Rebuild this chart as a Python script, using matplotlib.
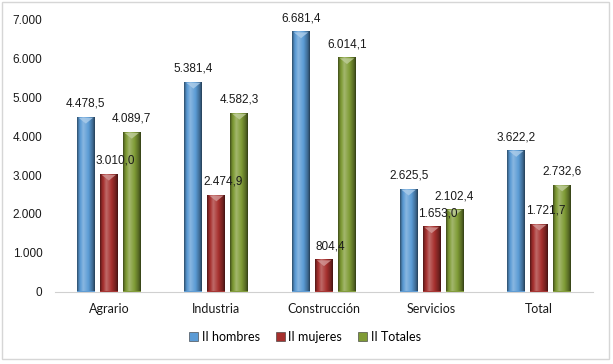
import numpy as np
import matplotlib.pyplot as plt
from matplotlib.colors import to_rgb
from matplotlib.patches import Rectangle, Polygon

categorias = ['Agrario', 'Industria', 'Construcción', 'Servicios', 'Total']
hombres = [4478.5, 5381.4, 6681.4, 2625.5, 3622.2]
mujeres = [3010.0, 2474.9, 804.4, 1653.0, 1721.7]
totales = [4089.7, 4582.3, 6014.1, 2102.4, 2732.6]
nombres = ['II hombres', 'II mujeres', 'II Totales']
colores = ['#5B9BD5', '#A6302E', '#7F9B35']


def fmt(v, dec=1):
    s = f"{v:,.{dec}f}"
    return s.replace(',', '#').replace('.', ',').replace('#', '.')


def sombra(color, n=64):
    # cylinder-like shading across the bar
    base = np.array(to_rgb(color))
    t = np.linspace(0, 1, n)
    k = np.interp(t, [0, 0.12, 0.35, 0.65, 0.9, 1], [-0.5, -0.1, 0.28, 0.0, -0.35, -0.6])
    out = np.empty((1, n, 3))
    for i, f in enumerate(k):
        if f >= 0:
            out[0, i] = base + (1 - base) * f
        else:
            out[0, i] = base * (1 + f)
    return np.clip(out, 0, 1)


fig = plt.figure(figsize=(6.13, 3.64), dpi=100)
ax = fig.add_axes([55 / 613, 72.5 / 364, 538 / 613, 271.5 / 364])

x = np.arange(len(categorias))
paso = 0.2135
ancho = 0.167
datos = [hombres, mujeres, totales]
dx_label = [0, 4.5, 0]

for j, (serie, col) in enumerate(zip(datos, colores)):
    barras = ax.bar(x + (j - 1) * paso, serie, width=ancho, color=col, zorder=2)
    img = sombra(col)
    for rect, v in zip(barras, serie):
        x0, w, h = rect.get_x(), rect.get_width(), rect.get_height()
        ax.imshow(img, extent=[x0, x0 + w, 0, h], aspect='auto', zorder=3,
                  interpolation='bilinear')
        # small bevel on top
        claro = np.array(to_rgb(col)) * 0.5 + 0.5
        ax.add_patch(Polygon([[x0 + w * 0.1, h], [x0 + w * 0.9, h], [x0 + w / 2, h - 150]],
                             closed=True, color=claro, alpha=0.8, zorder=4, lw=0))
        ax.annotate(fmt(v), (x0 + w / 2, h), xytext=(dx_label[j], 10),
                    textcoords='offset points', ha='center', va='center',
                    fontsize=8.5, family='Liberation Sans', color='#1a1a1a',
                    zorder=5, annotation_clip=False)

ax.set_xlim(-0.5, len(categorias) - 0.5)
ax.set_ylim(0, 7000)
ax.set_yticks(range(0, 7001, 1000))
ax.set_yticklabels([fmt(t, 0) for t in range(0, 7001, 1000)],
                   family='Liberation Sans', fontsize=8.5, color='#1a1a1a')
ax.set_xticks(x)
ax.set_xticklabels(categorias, family='Lato', fontsize=9, color='#1a1a1a')
ax.tick_params(axis='both', length=0)
ax.tick_params(axis='y', pad=9)
ax.tick_params(axis='x', pad=8)
for s in ['top', 'right', 'left']:
    ax.spines[s].set_visible(False)
ax.spines['bottom'].set_color('#d0d0d0')
ax.set_facecolor('none')

handles = [Rectangle((0, 0), 1, 1, facecolor=c, edgecolor='#333333', lw=0.4) for c in colores]
fig.legend(handles, nombres, loc='center', bbox_to_anchor=(305 / 613, 27 / 364), ncol=3,
           frameon=False, prop={'family': 'Lato', 'size': 9}, handlelength=0.7,
           handleheight=0.7, handletextpad=0.3, columnspacing=1.3)

fig.patches.append(Rectangle((2 / 613, 5 / 364), 607 / 613, 357 / 364, transform=fig.transFigure,
                             fill=False, edgecolor='#d6d6d6', lw=1))

fig.savefig('out.png', dpi=100)
